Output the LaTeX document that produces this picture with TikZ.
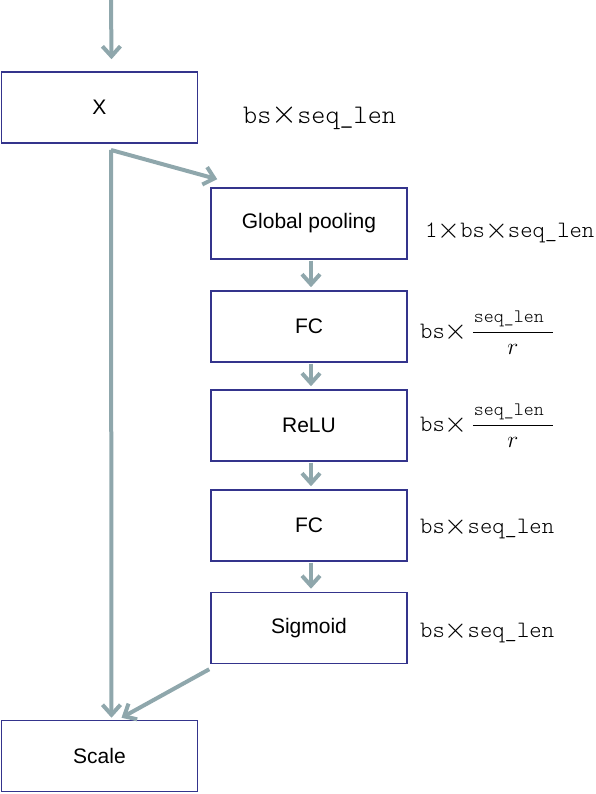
\RequirePackage{fix-cm}
\documentclass[tikz,border=0pt]{standalone}
\usepackage{fontspec}
\usepackage{amsmath}
\setmainfont{Liberation Sans}
\newfontfamily\lighttt{lmmonolt10-regular.otf}
\usetikzlibrary{arrows.meta}
\definecolor{boxblue}{RGB}{52,52,140}
\definecolor{flowgray}{RGB}{143,167,172}
\newcommand{\tms}{\raisebox{-0.5pt}{\scalebox{1.25}{$\times$}}}

\begin{document}
\begin{tikzpicture}[x=1pt,y=1pt,
  blk/.style={draw=boxblue,line width=1.5pt,minimum width=196pt,minimum height=71pt,inner sep=0pt,font=\fontsize{21}{24}\selectfont},
  flow/.style={draw=flowgray,line width=4pt,-{Straight Barb[length=10pt,width=18pt]}},
  dimlbl/.style={right,inner sep=0pt,font=\fontsize{23.5}{28}\selectfont\lighttt}]
  \useasboundingbox (0,0) rectangle (596,794);
  % blocks
  \node[blk] (x) at (99.5,686.5) {X};
  \node[blk] (pool) at (309,570.5) {Global pooling};
  \node[blk] (fc1) at (309,467.5) {FC};
  \node[blk] (relu) at (309,368.5) {ReLU};
  \node[blk] (fc2) at (309,268.5) {FC};
  \node[blk] (sig) at (309,166) {Sigmoid};
  \node[blk] (scale) at (99.5,38) {Scale};
  % shapes of the data
  \node[dimlbl,font=\fontsize{26.8}{32}\selectfont\lighttt] (dx) at (243,677) {bs\tms seq\_len};
  \node[dimlbl] (dpool) at (425,562) {1\tms bs\tms seq\_len};
  \node[dimlbl] (dfc1) at (420,461) {bs\tms\hspace{4pt}$\dfrac{\mbox{\fontsize{19}{20}\selectfont\lighttt\hspace{1pt}seq\_len\hspace{9pt}}}{r}$};
  \node[dimlbl] (drelu) at (420,368) {bs\tms\hspace{4pt}$\dfrac{\mbox{\fontsize{19}{20}\selectfont\lighttt\hspace{1pt}seq\_len\hspace{9pt}}}{r}$};
  \node[dimlbl] (dfc2) at (420,266) {bs\tms seq\_len};
  \node[dimlbl] (dsig) at (420,162) {bs\tms seq\_len};
  % connectors
  \coordinate (in) at (111,794);
  \coordinate (split) at (111,644);
  \draw[flow] (in) -- ([xshift=12pt,yshift=12pt]x.north);
  \draw[flow] (split) -- ([xshift=12pt,yshift=2pt]scale.north);
  \draw[flow] (split) -- ([xshift=7pt,yshift=8pt]pool.north west);
  \foreach \a/\b in {pool/fc1,fc1/relu,relu/fc2,fc2/sig}
    \draw[flow] ([xshift=2pt,yshift=-1pt]\a.south) -- ([xshift=2pt,yshift=3pt]\b.north);
  \draw[flow] ([xshift=-1pt,yshift=-5pt]sig.south west) -- ([xshift=22pt,yshift=2pt]scale.north);
\end{tikzpicture}
\end{document}
